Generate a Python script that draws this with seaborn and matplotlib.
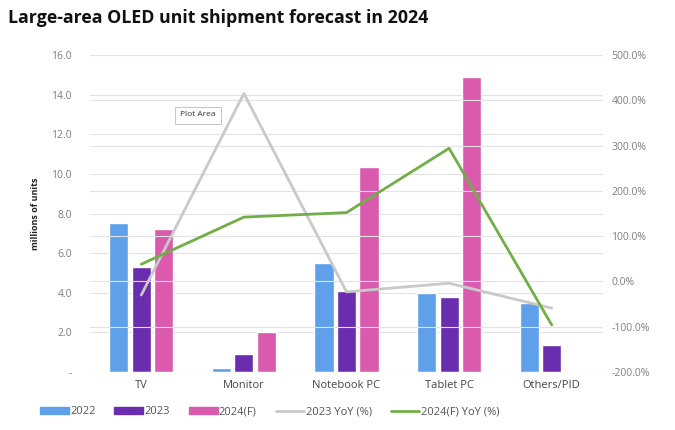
import numpy as np
import pandas as pd
import matplotlib
matplotlib.use("Agg")
import matplotlib.pyplot as plt
import seaborn as sns
from matplotlib.patches import Patch
from matplotlib.lines import Line2D

categories = ["TV", "Monitor", "Notebook PC", "Tablet PC", "Others/PID"]
series_names = ["2022", "2023", "2024(F)"]
units_2022 = [7.5, 0.2, 5.5, 4.0, 3.5]
units_2023 = [5.3, 0.9, 4.1, 3.8, 1.35]
units_2024f = [7.2, 2.0, 10.35, 14.9, 0.05]
yoy_2023 = [-30, 415, -23, -4, -59]
yoy_2024f = [38, 142, 152, 294, -96]
left_ticks = [0, 2, 4, 6, 8, 10, 12, 14, 16]
left_ticklabels = ["-", "2.0", "4.0", "6.0", "8.0", "10.0", "12.0", "14.0", "16.0"]
right_ticks = [-200, -100, 0, 100, 200, 300, 400, 500]

sns.set_theme(style="white")
plt.rcParams["font.family"] = ["Open Sans", "DejaVu Sans"]

c2022 = "#5FA0EA"
c2023 = "#6A2DB0"
c2024 = "#DA5AAE"
cyoy23 = "#C9C9C9"
cyoy24 = "#72AE48"
grid_c = "#E3E3E3"
tick_c = "#7F7F7F"

df = pd.DataFrame({
    "category": categories * 3,
    "series": sum([[s] * len(categories) for s in series_names], []),
    "value": units_2022 + units_2023 + units_2024f,
})

fig = plt.figure(figsize=(6.75, 4.3), dpi=100)
ax = fig.add_axes([90 / 675, 1 - 372 / 430, 513 / 675, 317 / 430])

for y in left_ticks:
    ax.axhline(y, color=grid_c, lw=0.8, zorder=0)

sns.barplot(data=df, x="category", y="value", hue="series", order=categories,
            hue_order=series_names, palette=[c2022, c2023, c2024], saturation=1,
            width=0.66, gap=0.15, ax=ax, legend=False, zorder=2)
ax.set_ylim(0, 16)
ax.set_xlim(-0.5, 4.5)
ax.set_yticks(left_ticks)
ax.set_yticklabels(left_ticklabels)
ax.set_xlabel("")
ax.set_ylabel("millions of units", fontsize=6.5, fontweight="bold", color="#222222", labelpad=8)
ax.tick_params(axis="y", length=0, labelsize=7.5, labelcolor=tick_c, pad=13)
ax.tick_params(axis="x", length=0, labelsize=8, labelcolor="#444444", pad=6)
for s in ax.spines.values():
    s.set_visible(False)

ax2 = ax.twinx()
ax2.set_ylim(-200, 500)
for y in right_ticks:
    ax2.axhline(y, color=grid_c, lw=0.8, zorder=0)
xpos = np.arange(len(categories))
sns.lineplot(x=xpos, y=yoy_2023, ax=ax2, color=cyoy23, lw=2, zorder=3)
sns.lineplot(x=xpos, y=yoy_2024f, ax=ax2, color=cyoy24, lw=2, zorder=4)
ax2.set_yticks(right_ticks)
ax2.set_yticklabels([f"{v:.1f}%" for v in right_ticks])
ax2.tick_params(axis="y", length=0, labelsize=7.5, labelcolor=tick_c, pad=6)
ax2.set_ylabel("")
for s in ax2.spines.values():
    s.set_visible(False)
ax2.set_xlim(-0.5, 4.5)

fig.text(8 / 675, 1 - 18 / 430, "Large-area OLED unit shipment forecast in 2024",
         fontsize=12.8, fontweight="bold", color="#111111", va="center", ha="left")

fig.text(180 / 675, 1 - 115 / 430, "Plot Area", fontsize=6, color="#333333",
         va="center", ha="left",
         bbox=dict(boxstyle="square,pad=0.6", fc="white", ec="#BBBBBB", lw=0.6))

handles = [
    Patch(color=c2022, label="2022"),
    Patch(color=c2023, label="2023"),
    Patch(color=c2024, label="2024(F)"),
    Line2D([0], [0], color=cyoy23, lw=2, label="2023 YoY (%)"),
    Line2D([0], [0], color=cyoy24, lw=2, label="2024(F) YoY (%)"),
]
fig.legend(handles=handles, loc="center left", bbox_to_anchor=(30 / 675, 1 - 412 / 430),
           ncol=5, frameon=False, fontsize=8, handlelength=2.6, handleheight=0.5,
           handletextpad=0.1, columnspacing=1.7, labelcolor="#555555")

fig.savefig("out.png", dpi=100)
